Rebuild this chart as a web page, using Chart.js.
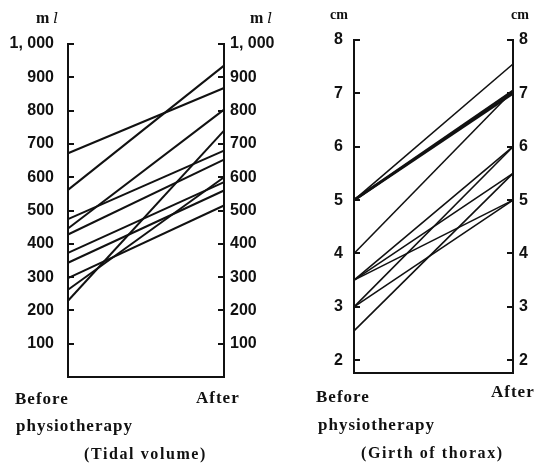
<!DOCTYPE html>
<html>
<head>
<meta charset="utf-8">
<script src="https://cdn.jsdelivr.net/npm/chart.js@4/dist/chart.umd.min.js"></script>
<style>
  html, body { margin: 0; padding: 0; background: #fff; }
  #page { position: relative; width: 536px; height: 465px; overflow: hidden; }
  canvas { position: absolute; top: 0; }
  .t { position: absolute; white-space: nowrap; color: #111; font-family: "Liberation Serif", serif; font-weight: bold; line-height: 1; }
  .cat { font-size: 17px; letter-spacing: 1px; }
  .cap { font-size: 16px; letter-spacing: 1.6px; }
  .unit { font-size: 16px; }
  .unit i { font-family: "DejaVu Serif", serif; font-weight: normal; font-size: 15px; }
</style>
</head>
<body>
<div id="page">
  <canvas id="tidal" width="292" height="465" style="left:0"></canvas>
  <canvas id="girth" width="266" height="465" style="left:270px"></canvas>

  <div class="t unit" style="left:36px; top:10px">m <i>l</i></div>
  <div class="t unit" style="left:250px; top:10px">m <i>l</i></div>
  <div class="t unit" style="left:330px; top:8px; font-size:14px">cm</div>
  <div class="t unit" style="left:511px; top:8px; font-size:14px">cm</div>

  <div class="t cat" style="left:15px; top:390px">Before</div>
  <div class="t cat" style="left:16px; top:417px">physiotherapy</div>
  <div class="t cat" style="left:196px; top:389px">After</div>
  <div class="t cap" style="left:84px; top:446px">(Tidal volume)</div>

  <div class="t cat" style="left:316px; top:388px">Before</div>
  <div class="t cat" style="left:318px; top:416px">physiotherapy</div>
  <div class="t cat" style="left:491px; top:383px">After</div>
  <div class="t cap" style="left:361px; top:445px">(Girth of thorax)</div>
</div>
<script>
const phases = ['Before', 'After'];

// Tidal volume (ml), one entry per patient
const tidalBefore = [672, 562, 474, 446, 428, 373, 343, 297, 262, 229];
const tidalAfter = [868, 935, 680, 803, 653, 585, 560, 515, 600, 740];
const tidalTicks = [100, 200, 300, 400, 500, 600, 700, 800, 900, 1000];

// Girth of thorax (cm)
const girthBefore = [5, 5, 5, 4, 3.5, 3.5, 3.5, 3, 3, 2.55];
const girthAfter = [7.55, 7.05, 7.0, 7.05, 6.0, 5.5, 5.0, 6.0, 5.0, 5.5];
const girthTicks = [2, 3, 4, 5, 6, 7, 8];

const tickFont = { family: '"Liberation Sans", Arial, sans-serif', size: 16, weight: 'bold' };

// short tick marks drawn inside the box, like the printed figure
const inwardTicks = {
    id: 'inwardTicks',
    afterDatasetsDraw(chart) {
        const { ctx, chartArea } = chart;
        ctx.save();
        ctx.strokeStyle = '#111';
        ctx.lineWidth = 2;
        [['y', chartArea.left, 1], ['y2', chartArea.right, -1]].forEach(([id, x, dir]) => {
            const scale = chart.scales[id];
            scale.ticks.forEach((t) => {
                const py = Math.round(scale.getPixelForValue(t.value));
                ctx.beginPath();
                ctx.moveTo(x, py);
                ctx.lineTo(x + dir * 6, py);
                ctx.stroke();
            });
        });
        ctx.restore();
    },
};

function makePanel(canvasId, before, after, tickValues, range, box, widths, fmt) {
    const datasets = before.map((b, i) => ({
        data: [b, after[i]],
        borderColor: '#111',
        borderWidth: widths[i],
        pointRadius: 0,
        tension: 0,
        clip: false,
    }));
    const yAxis = (position, width) => ({
        type: 'linear',
        position,
        min: range[0],
        max: range[1],
        afterBuildTicks: (s) => { s.ticks = tickValues.map((v) => ({ value: v })); },
        afterFit: (s) => { s.width = width; },
        grid: { display: false, drawTicks: false },
        border: { display: true, color: '#111', width: 2 },
        ticks: {
            color: '#111',
            font: tickFont,
            padding: position === 'left' ? box.padL : box.padR,
            callback: fmt,
        },
    });
    return new Chart(document.getElementById(canvasId), {
        type: 'line',
        data: { labels: phases, datasets },
        options: {
            responsive: false,
            animation: false,
            events: [],
            layout: { padding: { top: box.top, left: 0, right: 0, bottom: 0 } },
            plugins: { legend: { display: false }, tooltip: { enabled: false } },
            scales: {
                x: {
                    type: 'category',
                    offset: false,
                    afterFit: (s) => { s.height = box.bottom; },
                    grid: { display: false, drawTicks: false },
                    border: { display: true, color: '#111', width: 2 },
                    ticks: { display: false },
                },
                y: yAxis('left', box.left),
                y2: yAxis('right', box.right),
            },
        },
        plugins: [inwardTicks],
    });
}

makePanel('tidal', tidalBefore, tidalAfter, tidalTicks, [0, 1000],
    { top: 44, bottom: 465 - 377, left: 68, right: 292 - 224, padL: 14, padR: 6 },
    tidalBefore.map(() => 2),
    (v) => (v === 1000 ? '1, 000' : String(v)));

makePanel('girth', girthBefore, girthAfter, girthTicks, [1.76, 8],
    { top: 40, bottom: 465 - 373, left: 354 - 270, right: 266 - (513 - 270), padL: 11, padR: 6 },
    [1.6, 2.6, 2.6, 1.6, 1.6, 1.6, 1.6, 1.6, 1.6, 1.6],
    (v) => String(v));
</script>
</body>
</html>
